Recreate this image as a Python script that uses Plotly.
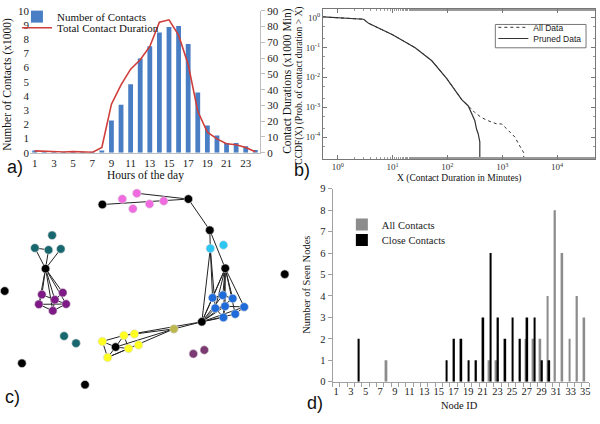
import plotly.graph_objects as go

# ---------------- Panel a data ----------------
hours = list(range(1, 25))
contacts_k = [0.15, 0.05, 0.02, 0.01, 0.01, 0.01, 0.03, 0.16, 2.28, 3.38, 4.82, 6.64, 7.51, 8.47,
              8.86, 8.93, 7.67, 4.25, 1.92, 1.21, 0.68, 0.68, 0.46, 0.2]
duration_k = [1.2, 0.9, 0.5, 0.5, 0.7, 0.6, 0.2, 3.3, 30.8, 43.0, 53.0, 59.0, 67.4, 82.8,
              84.3, 74.6, 56.0, 26.3, 13.0, 8.8, 5.7, 5.1, 3.3, 0.6]
a_tick_vals = [1, 3, 5, 7, 9, 11, 13, 15, 17, 19, 21, 23]
a_tick_text = ["1", "3", "5", "7", "9", "11", "13", "15", "17", "19", "21", "23"]

# ---------------- Panel b data (CCDF) ----------------
all_x = [0.54, 2.97, 3.66, 10, 25.8, 51.9, 97.3, 138, 182, 240, 316, 417, 556, 794, 977,
         1288, 1698, 1950, 2239, 2455, 2455]
all_y = [1.05, 0.88, 0.64, 0.265, 0.098, 0.0358, 0.0091, 0.0038, 0.00178, 0.0011, 0.00066,
         0.00045, 0.00035, 0.000275, 0.000275, 0.000166, 0.0001, 6.2e-5, 4.2e-5, 3.0e-5, 1e-5]
pruned_x = [0.54, 2.97, 3.66, 10, 25.8, 51.9, 97.3, 138, 182, 240, 275, 316, 339, 363, 389, 389]
pruned_y = [1.05, 0.88, 0.64, 0.265, 0.098, 0.0358, 0.0091, 0.0038, 0.00178, 0.0011, 0.00066,
            0.00035, 0.000186, 0.000129, 0.000069, 1e-5]
b_xtick_vals = [1, 10, 100, 1000, 10000]
b_xtick_text = ["10<sup>0</sup>", "10<sup>1</sup>", "10<sup>2</sup>", "10<sup>3</sup>", "10<sup>4</sup>"]
b_ytick_vals = [1, 0.1, 0.01, 0.001, 0.0001]
b_ytick_text = ["10<sup>0</sup>", "10<sup>-1</sup>", "10<sup>-2</sup>", "10<sup>-3</sup>", "10<sup>-4</sup>"]

# ---------------- Panel c data (network layout) ----------------
node_x = [102.7, 189, 210.5, 226, 45.7, 202.5, 116, 4.7, 285.7, 22, 85.3,
          122.7, 137.3, 150, 164.3, 133.3,
          211, 224.2,
          213.3, 223.5, 233.5, 216, 225.8, 236, 245, 224.2,
          174.5,
          102.7, 124.3, 134.8, 129, 139, 108,
          52.3, 35, 48.7, 61, 64.3, 76.3,
          42, 63, 55, 39, 66.3, 53,
          194, 205]
node_y = [204.3, 198.7, 230.7, 270, 270.3, 325, 351, 293.3, 276, 367.7, 389.7,
          198.7, 192.7, 203.7, 200.7, 208.7,
          249.5, 246,
          300.3, 297.7, 301, 311, 309, 317, 309.7, 320.5,
          332.3,
          345.2, 339, 337.5, 352.5, 348.8, 361.7,
          236, 249, 251, 250, 339.7, 347,
          297, 295, 302.3, 307, 306.7, 313.7,
          358, 354]
node_group = (["black"] * 11 + ["pink"] * 5 + ["cyan"] * 2 + ["blue"] * 8 + ["olive"]
              + ["yellow"] * 6 + ["teal"] * 6 + ["purple"] * 6 + ["maroon"] * 2)
edges = [(0, 1), (12, 1), (1, 2), (2, 16), (2, 3), (16, 5), (16, 18), (16, 21), (3, 5),
         (3, 18), (3, 19), (3, 20), (3, 21), (3, 22), (3, 23), (3, 24), (3, 25),
         (5, 18), (5, 19), (5, 20), (5, 21), (5, 22), (5, 23), (5, 24), (5, 25),
         (18, 19), (19, 20), (21, 22), (22, 24), (23, 24), (21, 25), (22, 25),
         (4, 34), (4, 35), (4, 36), (34, 35),
         (4, 39), (4, 40), (4, 41), (4, 42), (4, 43), (4, 44),
         (39, 41), (41, 43), (40, 41), (42, 43), (42, 44), (44, 43), (39, 42), (41, 44),
         (6, 27), (6, 28), (6, 30), (6, 32), (27, 28), (27, 32), (32, 30), (28, 30),
         (6, 26), (28, 26), (32, 26), (26, 5), (28, 5)]
group_colors = {"black": "#000000", "pink": "#F06AE0", "cyan": "#2CC6F2", "blue": "#1F6BDA",
                "olive": "#BDB84E", "yellow": "#FFFF22", "teal": "#17676F", "purple": "#7E1A86",
                "maroon": "#7C3A72"}

# ---------------- Panel d data ----------------
node_ids = list(range(1, 36))
all_contacts = [0, 0, 0, 0, 0, 0, 0, 1, 0, 0, 0, 0, 0, 0, 0, 0, 0, 0, 0, 0, 0, 1, 1, 0, 0, 0,
                2, 2, 2, 4, 8, 6, 2, 4, 3]
close_contacts = [0, 0, 0, 2, 0, 0, 0, 0, 0, 0, 0, 0, 0, 0, 0, 1, 2, 2, 1, 1, 3, 6, 3, 2, 3, 2,
                  3, 3, 1, 1, 0, 0, 0, 0, 0]
d_tick_vals = list(range(1, 36, 2))
d_tick_text = [str(v) for v in d_tick_vals]

SERIF = "Liberation Serif"
SANS = "Liberation Sans"
H = 424.0
W = 600.0


def ydom(top_px, bot_px):
    return [(H - bot_px) / H, (H - top_px) / H]


def legend_at(x_px, y_px, font, **kw):
    d = dict(x=x_px / W, y=1 - y_px / H, xanchor="left", yanchor="top", bgcolor="rgba(0,0,0,0)",
             font=font, itemwidth=30, tracegroupgap=0)
    d.update(kw)
    return d


fig = go.Figure()

# Panel a
fig.add_trace(go.Bar(x=hours, y=contacts_k, name="Number of Contacts", width=0.5,
                     marker=dict(color="#4A7EC4", line=dict(width=0)),
                     xaxis="x", yaxis="y", legend="legend"))
fig.add_trace(go.Scatter(x=hours, y=duration_k, name="Total Contact Duration", mode="lines",
                         line=dict(color="#CF3E3A", width=1.6),
                         xaxis="x", yaxis="y2", legend="legend4"))

# Panel b
fig.add_trace(go.Scatter(x=all_x, y=all_y, name="All Data", mode="lines",
                         line=dict(color="#333333", width=1, dash="dot"),
                         xaxis="x3", yaxis="y3", legend="legend2"))
fig.add_trace(go.Scatter(x=pruned_x, y=pruned_y, name="Pruned Data", mode="lines",
                         line=dict(color="#333333", width=1.2),
                         xaxis="x3", yaxis="y3", legend="legend5"))

# Panel c
ex, ey = [], []
for a, b in edges:
    ex += [node_x[a], node_x[b], None]
    ey += [node_y[a], node_y[b], None]
fig.add_trace(go.Scatter(x=ex, y=ey, mode="lines", line=dict(color="#222222", width=1),
                         showlegend=False, xaxis="x4", yaxis="y4", hoverinfo="skip"))
fig.add_trace(go.Scatter(x=node_x, y=node_y, mode="markers", showlegend=False,
                         marker=dict(size=8.5, color=[group_colors[g] for g in node_group],
                                     line=dict(color="#D8D8D8", width=0.6)),
                         xaxis="x4", yaxis="y4"))

# Panel d
fig.add_trace(go.Bar(x=node_ids, y=all_contacts, name="All Contacts", width=0.24, offset=-0.27,
                     marker=dict(color="#8C8C8C", line=dict(width=0)),
                     xaxis="x5", yaxis="y5", legend="legend3"))
fig.add_trace(go.Bar(x=node_ids, y=close_contacts, name="Close Contacts", width=0.24, offset=-0.05,
                     marker=dict(color="#000000", line=dict(width=0)),
                     xaxis="x5", yaxis="y5", legend="legend6"))

tick_serif = dict(family=SERIF, size=11, color="#222222")
fa = dict(family=SERIF, size=11, color="#111111")
fb = dict(family=SANS, size=8.5, color="#222222")
fd = dict(family=SERIF, size=10.5, color="#222222")

fig.update_layout(
    width=600, height=424, margin=dict(l=0, r=0, t=0, b=0),
    paper_bgcolor="white", plot_bgcolor="white", barmode="overlay",
    # panel a
    xaxis=dict(domain=[30 / W, 261 / W], range=[0.5, 24.5], tickvals=a_tick_vals, ticktext=a_tick_text,
               showline=True, linecolor="#BFBFBF", linewidth=1, ticks="", showgrid=False, zeroline=False,
               tickfont=tick_serif, anchor="y"),
    yaxis=dict(domain=ydom(5, 151), range=[0, 10], dtick=1, showgrid=False, zeroline=False,
               showline=False, ticks="", tickfont=tick_serif, anchor="x"),
    yaxis2=dict(range=[0, 90], dtick=10, overlaying="y", side="right", anchor="x", showgrid=False,
                zeroline=False, showline=True, linecolor="#BFBFBF", ticks="outside", ticklen=4,
                tickcolor="#BFBFBF", tickfont=tick_serif),
    # panel b
    xaxis3=dict(domain=[324 / W, 597 / W], type="log", range=[-0.27, 4.69], tickvals=b_xtick_vals,
                ticktext=b_xtick_text, anchor="y3", showgrid=False, zeroline=False, showline=True,
                mirror="ticks", linecolor="#777777", ticks="inside", ticklen=4, tickcolor="#777777",
                tickfont=dict(family=SERIF, size=9, color="#333333"),
                minor=dict(ticks="inside", ticklen=2, tickcolor="#999999", showgrid=False)),
    yaxis3=dict(domain=ydom(3, 157), type="log", range=[-4.72, 0.29], tickvals=b_ytick_vals,
                ticktext=b_ytick_text, anchor="x3", showgrid=False, zeroline=False, showline=True,
                mirror="ticks", linecolor="#777777", ticks="inside", ticklen=4, tickcolor="#777777",
                tickfont=dict(family=SERIF, size=9, color="#333333"),
                minor=dict(ticks="inside", ticklen=2, tickcolor="#999999", showgrid=False)),
    # panel c
    xaxis4=dict(domain=[0, 0.5], range=[0, 300], visible=False, anchor="y4"),
    yaxis4=dict(domain=ydom(180, 424), range=[424, 180], visible=False, anchor="x4"),
    # panel d
    xaxis5=dict(domain=[333.7 / W, 591 / W], range=[0.5, 35.5], tickvals=d_tick_vals, ticktext=d_tick_text,
                anchor="y5", showgrid=False, zeroline=False, showline=True, linecolor="#A0A0A0",
                ticks="", tickfont=dict(family=SERIF, size=10.5, color="#222222"),
                minor=dict(tick0=0.5, dtick=1, ticks="outside", ticklen=4, tickcolor="#A0A0A0")),
    yaxis5=dict(domain=ydom(188, 386.7), range=[0, 9], dtick=1, anchor="x5", showgrid=False,
                zeroline=False, showline=True, linecolor="#A0A0A0", ticks="outside", ticklen=4,
                tickcolor="#A0A0A0", tickfont=dict(family=SERIF, size=10.5, color="#222222")),
    legend=legend_at(17, -4, fa),
    legend4=legend_at(17, 7.5, fa),
    legend2=legend_at(495, 7, fb),
    legend5=legend_at(495, 18.5, fb),
    legend3=legend_at(343, 210, fd),
    legend6=legend_at(343, 226, fd),
    showlegend=True,
    shapes=[dict(type="rect", xref="paper", yref="paper", x0=497 / W, x1=588 / W,
                 y0=1 - 43 / H, y1=1 - 19 / H, line=dict(color="#777777", width=1),
                 fillcolor="white", layer="above")],
)

ann = [
    # panel a titles
    dict(text="Number of Contacts (x1000)", x=8, y=80, textangle=-90, font=dict(family=SERIF, size=11.5)),
    dict(text="Contact Durations (x1000 Min)", x=289, y=78, textangle=-90, font=dict(family=SERIF, size=11.5)),
    dict(text="Hours of the day", x=146, y=174, font=dict(family=SERIF, size=11.5)),
    # panel b titles
    dict(text="CCDF(X) (Prob. of contact duration > X)", x=301, y=82, textangle=-90,
         font=dict(family=SERIF, size=9.5)),
    dict(text="X (Contact Duration in Minutes)", x=461, y=178, font=dict(family=SERIF, size=9.5)),
    # panel d titles
    dict(text="Number of Seen Nodes", x=308, y=287, textangle=-90, font=dict(family=SERIF, size=10.5)),
    dict(text="Node ID", x=461, y=411, font=dict(family=SERIF, size=10.5)),
    # panel letters
    dict(text="a)", x=15, y=166, font=dict(family=SANS, size=18)),
    dict(text="b)", x=303, y=169, font=dict(family=SANS, size=18)),
    dict(text="c)", x=13, y=402, font=dict(family=SANS, size=18)),
    dict(text="d)", x=316, y=409, font=dict(family=SANS, size=18)),
]
annotations = []
for a in ann:
    d = dict(xref="paper", yref="paper", x=a["x"] / W, y=1 - a["y"] / H, text=a["text"],
             showarrow=False, xanchor="center", yanchor="middle",
             font=dict(color="#111111", **a["font"]))
    if "textangle" in a:
        d["textangle"] = a["textangle"]
    annotations.append(d)
fig.update_layout(annotations=annotations)

fig.write_html("out.html", config={"displayModeBar": False},
               post_script="document.body.style.margin='0';")
